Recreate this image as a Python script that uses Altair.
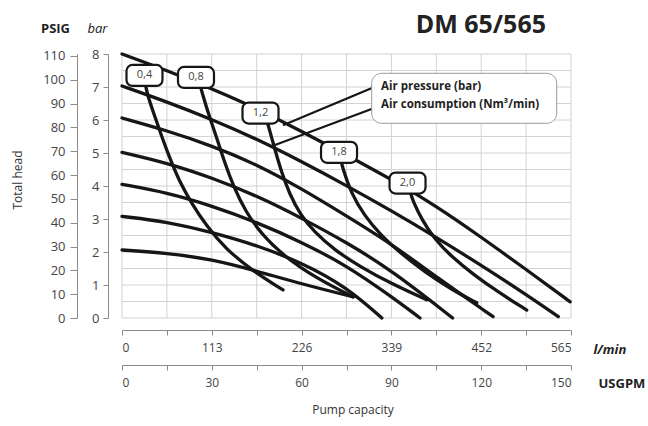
import altair as alt
import pandas as pd

FONT = "Open Sans"

# ---------------- data (flow in l/min, head in bar) ----------------
# Air-pressure curves (head at zero flow = air pressure)
P8_Q = [0, 56.5, 113, 170, 226, 282, 339, 395, 452, 508, 564]
P8_H = [8.0, 7.5, 6.95, 6.35, 5.65, 4.95, 4.2, 3.4, 2.45, 1.48, 0.49]
P7_Q = [0, 56.5, 113, 170, 226, 282, 339, 395, 452, 508, 549]
P7_H = [7.03, 6.55, 6.02, 5.42, 4.74, 4.02, 3.25, 2.45, 1.6, 0.72, 0.04]
P6_Q = [0, 56.5, 113, 170, 226, 282, 339, 395, 467]
P6_H = [6.06, 5.68, 5.22, 4.65, 3.92, 3.1, 2.25, 1.25, 0.04]
P5_Q = [0, 56.5, 113, 170, 226, 282, 339, 416]
P5_H = [5.02, 4.7, 4.25, 3.7, 3.03, 2.3, 1.45, 0.0]
P4_Q = [0, 56.5, 113, 170, 226, 282, 339, 375]
P4_H = [4.05, 3.8, 3.4, 2.9, 2.3, 1.6, 0.65, 0.0]
P3_Q = [0, 56.5, 113, 170, 226, 282, 327]
P3_H = [3.08, 2.92, 2.6, 2.2, 1.68, 0.95, 0.0]
P2_Q = [0, 56.5, 113, 170, 226, 291]
P2_H = [2.06, 1.97, 1.78, 1.42, 1.03, 0.64]

# Air-consumption curves (Nm3/min)
A04_Q = [28.5, 32.0, 40.0, 50.0, 60.0, 72.0, 87.0, 106.0, 130.0, 165.0, 202.6]
A04_H = [7.2, 6.75, 6.2, 5.5, 4.85, 4.15, 3.5, 2.8, 2.1, 1.42, 0.85]
A08_Q = [98.0, 101.0, 110.0, 120.0, 130.0, 141.0, 155.0, 175.0, 205.0, 245.0, 290.7]
A08_H = [7.1, 6.8, 6.1, 5.4, 4.65, 3.95, 3.25, 2.55, 1.85, 1.2, 0.64]
A12_Q = [182.0, 184.5, 192.5, 201.0, 211.0, 224.0, 242.0, 268.0, 300.0, 338.0, 383.4]
A12_H = [6.0, 5.8, 5.1, 4.4, 3.75, 3.15, 2.6, 2.05, 1.55, 1.05, 0.55]
A18_Q = [275.5, 277.5, 288.0, 305.0, 326.0, 350.0, 382.0, 415.0, 446.4]
A18_H = [4.8, 4.55, 3.8, 3.1, 2.5, 1.97, 1.38, 0.86, 0.46]
A20_Q = [363.0, 366.0, 378.0, 393.0, 415.0, 442.0, 475.0, 509.3]
A20_H = [3.8, 3.55, 2.95, 2.4, 1.85, 1.32, 0.76, 0.24]

# Curve labels (air consumption)
LABEL_TEXT = ["0,4", "0,8", "1,2", "1,8", "2,0"]
LABEL_Q = [28.3, 93.1, 174.3, 273.1, 359.3]
LABEL_H = [7.35, 7.29, 6.21, 5.02, 4.09]

# Legend annotation
LEGEND_TEXT = ["Air pressure  (bar)", "Air consumption (Nm³/min)"]
LEGEND_TEXT_Q = [326, 326]
LEGEND_TEXT_H = [7.0, 6.45]
LEGEND_BOX_Q = [314.2, 547.0]
LEGEND_BOX_H = [5.9, 7.415]
POINTER_Q1 = [202.6, 192.5]
POINTER_H1 = [5.84, 5.24]
POINTER_Q2 = [318.3, 318.3]
POINTER_H2 = [7.01, 6.37]

# Axes ticks
X_TICKS = [0, 56.5, 113, 169.5, 226, 282.5, 339, 395.5, 452, 508.5, 565]
Y_TICKS = [0, 1, 2, 3, 4, 5, 6, 7, 8]
Y_GRID = [0, 0.5, 1, 1.5, 2, 2.5, 3, 3.5, 4, 4.5, 5, 5.5, 6, 6.5, 7, 7.5, 8]
USGPM_TICKS = [0, 15, 30, 45, 60, 75, 90, 105, 120, 135, 150]
PSIG_TICKS = [0, 10, 20, 30, 40, 50, 60, 70, 80, 90, 100, 110]

# ---------------- build tables ----------------
rows = []
for name, qs, hs in [
    ("p8", P8_Q, P8_H), ("p7", P7_Q, P7_H), ("p6", P6_Q, P6_H), ("p5", P5_Q, P5_H),
    ("p4", P4_Q, P4_H), ("p3", P3_Q, P3_H), ("p2", P2_Q, P2_H),
    ("a04", A04_Q, A04_H), ("a08", A08_Q, A08_H), ("a12", A12_Q, A12_H),
    ("a18", A18_Q, A18_H), ("a20", A20_Q, A20_H),
]:
    for i, (q, h) in enumerate(zip(qs, hs)):
        rows.append({"curve": name, "q": q, "h": h, "i": i})
curves_df = pd.DataFrame(rows)
labels_df = pd.DataFrame({"t": LABEL_TEXT, "q": LABEL_Q, "h": LABEL_H})
legend_df = pd.DataFrame({"t": LEGEND_TEXT, "q": LEGEND_TEXT_Q, "h": LEGEND_TEXT_H})
box_df = pd.DataFrame({"q1": [LEGEND_BOX_Q[0]], "q2": [LEGEND_BOX_Q[1]],
                       "h1": [LEGEND_BOX_H[0]], "h2": [LEGEND_BOX_H[1]]})
ptr_df = pd.DataFrame({"q1": POINTER_Q1, "h1": POINTER_H1, "q2": POINTER_Q2, "h2": POINTER_H2})

AX = "#8a8a8a"
LBL = "#444444"
INK = "#161616"

xs = alt.Scale(domain=[0, 565], nice=False, zero=False)
ys = alt.Scale(domain=[0, 8], nice=False, zero=False)

xaxis = alt.Axis(values=X_TICKS, labelExpr="datum.value % 113 == 0 ? datum.label : ''",
                 offset=12, tickSize=5, domainColor=AX, tickColor=AX, labelColor=LBL,
                 labelFont=FONT, labelFontSize=12, labelPadding=7, grid=False,
                 title="l/min", titleX=471, titleY=19, titleAlign="left", titleBaseline="middle",
                 titleAngle=0, titleFontStyle="italic", titleFontWeight="bold", titleFontSize=13,
                 titleColor="#222222", titleFont=FONT)
yaxis = alt.Axis(values=Y_TICKS, offset=14, tickSize=5, domainColor=AX, tickColor=AX,
                 labelColor=LBL, labelFont=FONT, labelFontSize=13, labelPadding=4, grid=False,
                 title="bar", titleX=-11, titleY=-26, titleAlign="center", titleBaseline="middle",
                 titleAngle=0, titleFontStyle="italic", titleFontWeight="normal", titleFontSize=13,
                 titleColor="#222222", titleFont=FONT)

X = lambda f: alt.X(f, type="quantitative", scale=xs, axis=xaxis)
Y = lambda f: alt.Y(f, type="quantitative", scale=ys, axis=yaxis)

grid_v = alt.Chart(pd.DataFrame({"g": X_TICKS})).mark_rule(color="#d2d2d2", strokeWidth=1).encode(x=X("g"))
grid_h = alt.Chart(pd.DataFrame({"g": Y_GRID})).mark_rule(color="#d2d2d2", strokeWidth=1).encode(y=Y("g"))

lines = alt.Chart(curves_df).mark_line(color=INK, strokeWidth=3.3, interpolate="basis",
                                       strokeCap="round").encode(
    x=X("q"), y=Y("h"), detail="curve:N", order="i:Q")

pointers = alt.Chart(ptr_df).mark_rule(color=INK, strokeWidth=2.2).encode(
    x=X("q1"), x2="q2", y=Y("h1"), y2="h2")

legend_box = alt.Chart(box_df).mark_rect(cornerRadius=10, fill="white", stroke="#9a9a9a",
                                         strokeWidth=1).encode(x=X("q1"), x2="q2", y=Y("h1"), y2="h2")
legend_text = alt.Chart(legend_df).mark_text(align="left", baseline="middle", font=FONT,
                                             fontWeight="bold", fontSize=11.5, color="#222222").encode(
    x=X("q"), y=Y("h"), text="t:N")

label_box = alt.Chart(labels_df).mark_rect(width=36, height=21, cornerRadius=6, fill="white",
                                           stroke=INK, strokeWidth=2.2).encode(x=X("q"), y=Y("h"))
label_text = alt.Chart(labels_df).mark_text(font=FONT, fontSize=11, color="#444444",
                                            baseline="middle").encode(x=X("q"), y=Y("h"), text="t:N")

main = alt.layer(grid_v, grid_h, lines, pointers, legend_box, legend_text, label_box, label_text)

# secondary axes (USGPM / PSIG)
aux_df = pd.DataFrame({"u": [0, 150], "p": [0, 110.8]})
aux = alt.Chart(aux_df).mark_point(opacity=0).encode(
    x=alt.X("u:Q", scale=alt.Scale(domain=[0, 150], nice=False, zero=False),
            axis=alt.Axis(values=USGPM_TICKS, labelExpr="datum.value % 30 == 0 ? datum.label : ''",
                          orient="bottom", offset=47, tickSize=5, domainColor=AX, tickColor=AX,
                          labelColor=LBL, labelFont=FONT, labelFontSize=12, labelPadding=7, grid=False,
                          title="USGPM", titleX=476, titleY=18, titleAlign="left",
                          titleBaseline="middle", titleAngle=0, titleFontWeight="bold",
                          titleFontSize=13, titleColor="#222222", titleFont=FONT)),
    y=alt.Y("p:Q", scale=alt.Scale(domain=[0, 110.8], nice=False, zero=False),
            axis=alt.Axis(values=PSIG_TICKS, orient="left", offset=45, tickSize=7, domainColor=AX,
                          tickColor=AX, labelColor=LBL, labelFont=FONT, labelFontSize=13,
                          labelPadding=5, grid=False, title="PSIG", titleX=-22, titleY=-26,
                          titleAlign="center", titleBaseline="middle", titleAngle=0,
                          titleFontWeight="bold", titleFontSize=13, titleColor="#222222",
                          titleFont=FONT)),
)

txt = pd.DataFrame({"a": [0]})
title_mark = alt.Chart(txt).mark_text(text="DM 65/565", font=FONT, fontWeight="bold", fontSize=25,
                                      color="#222222", align="right", baseline="alphabetic").encode(
    x=alt.value(424), y=alt.value(-21))
pump_mark = alt.Chart(txt).mark_text(text="Pump capacity", font=FONT, fontSize=12, color="#333333",
                                     align="center", baseline="middle").encode(
    x=alt.value(231), y=alt.value(356))
head_mark = alt.Chart(txt).mark_text(text="Total head", font=FONT, fontSize=12, color="#333333",
                                     align="center", baseline="middle", angle=270).encode(
    x=alt.value(-104), y=alt.value(126))

chart = alt.layer(main, aux, title_mark, pump_mark, head_mark).resolve_scale(
    x="independent", y="independent"
).properties(
    width=449, height=264, autosize="none",
    padding={"left": 122, "top": 54, "right": 77, "bottom": 108},
    background="white",
).configure_view(strokeWidth=0)

chart.save("out.html", embed_options={"renderer": "svg", "actions": False})
